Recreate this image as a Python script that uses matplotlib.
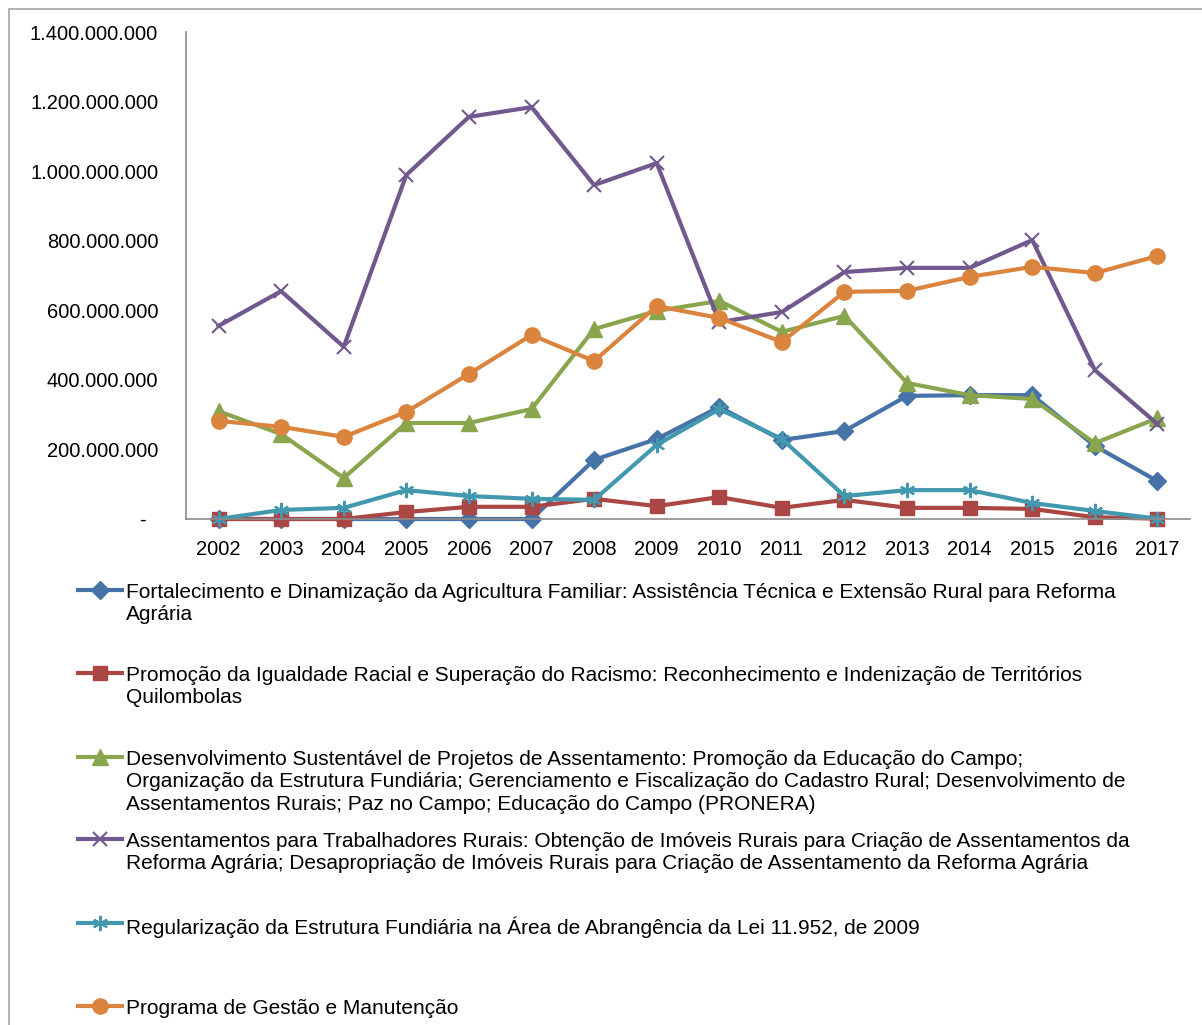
import matplotlib.pyplot as plt
from matplotlib.lines import Line2D
from matplotlib.patches import Rectangle
from matplotlib.ticker import FuncFormatter

plt.rcParams['font.family'] = ['Liberation Sans', 'DejaVu Sans']

years = [str(y) for y in range(2002, 2018)]

# budget values (R$)
fortalecimento = [0, 0, 0, 0, 0, 0, 170e6, 230e6, 322e6, 227e6, 253e6, 354e6, 356e6, 356e6, 210e6, 109e6]
promocao = [0, 0, 0, 20e6, 35e6, 35e6, 58e6, 37e6, 63e6, 32e6, 55e6, 32e6, 32e6, 29e6, 5e6, 1e6]
desenvolvimento = [310e6, 244e6, 118e6, 276e6, 276e6, 316e6, 546e6, 598e6, 627e6, 538e6, 584e6, 391e6, 356e6, 345e6, 218e6, 290e6]
assentamentos = [555e6, 655e6, 495e6, 989e6, 1156e6, 1184e6, 960e6, 1023e6, 566e6, 595e6, 710e6, 722e6, 722e6, 802e6, 428e6, 273e6]
regularizacao = [0, 26e6, 32e6, 83e6, 66e6, 58e6, 55e6, 213e6, 316e6, 230e6, 66e6, 83e6, 83e6, 46e6, 23e6, 1e6]
gestao = [282e6, 265e6, 236e6, 308e6, 417e6, 529e6, 454e6, 612e6, 578e6, 509e6, 653e6, 656e6, 696e6, 725e6, 707e6, 756e6]

labels = [
    "Fortalecimento e Dinamização da Agricultura Familiar: Assistência Técnica e Extensão Rural para Reforma\nAgrária",
    "Promoção da Igualdade Racial e Superação do Racismo: Reconhecimento e Indenização de Territórios\nQuilombolas",
    "Desenvolvimento Sustentável de Projetos de Assentamento: Promoção da Educação do Campo;\nOrganização da Estrutura Fundiária; Gerenciamento e Fiscalização do Cadastro Rural; Desenvolvimento de\nAssentamentos Rurais; Paz no Campo; Educação do Campo (PRONERA)",
    "Assentamentos para Trabalhadores Rurais: Obtenção de Imóveis Rurais para Criação de Assentamentos da\nReforma Agrária; Desapropriação de Imóveis Rurais para Criação de Assentamento da Reforma Agrária",
    "Regularização da Estrutura Fundiária na Área de Abrangência da Lei 11.952, de 2009",
    "Programa de Gestão e Manutenção",
]

series = [fortalecimento, promocao, desenvolvimento, assentamentos, regularizacao, gestao]
colors = ["#4572A7", "#AA4643", "#89A54E", "#71588F", "#4198AF", "#DB843D"]
markers = ["D", "s", "^", "x", (6, 2, 0), "o"]
msizes = [9, 10, 11, 10, 11, 11]
mew = [1, 1, 1, 1.5, 1.5, 1]

W, H = 1202, 1025
fig = plt.figure(figsize=(W / 100, H / 100), dpi=100)
ax = fig.add_axes([186 / W, 1 - 519 / H, (1190 - 186) / W, (519 - 32) / H])

x = list(range(len(years)))
for vals, c, m, ms, mw in zip(series, colors, markers, msizes, mew):
    ax.plot(x, vals, color=c, lw=3, marker=m, ms=ms, mec=c, mfc=c, mew=mw, clip_on=False)

ax.set_xlim(-0.52, len(years) - 0.48)
ax.set_ylim(0, 1.4e9)
ax.set_xticks(x)
ax.set_xticklabels(years)
ax.set_yticks([i * 200e6 for i in range(8)])


def fmt(v, pos):
    if v == 0:
        return "-  "
    return f"{int(v):,}".replace(",", ".")


ax.yaxis.set_major_formatter(FuncFormatter(fmt))
ax.tick_params(axis="both", length=0, labelsize=14.5)
ax.tick_params(axis="y", pad=20)
ax.tick_params(axis="x", pad=15)
for s in ["top", "right"]:
    ax.spines[s].set_visible(False)
for s in ["left", "bottom"]:
    ax.spines[s].set_color("#8c8c8c")
    ax.spines[s].set_linewidth(1.2)

# legend drawn by hand below the plot
leg_y = [590, 673, 757, 839, 923, 1006]
for lab, c, m, ms, mw, yy in zip(labels, colors, markers, msizes, mew, leg_y):
    yf = 1 - yy / H
    fig.add_artist(Line2D([78 / W, 122 / W], [yf, yf], transform=fig.transFigure, color=c, lw=3))
    fig.add_artist(Line2D([100 / W], [yf], transform=fig.transFigure, color=c, marker=m,
                          ms=ms, mec=c, mfc=c, mew=mw, lw=0))
    fig.text(126 / W, yf + 7 / H, lab, fontsize=15, va="top", ha="left", linespacing=1.22)

# chart border
fig.add_artist(Rectangle((9 / W, -0.1), 1.2, 1.1 - 9 / H, transform=fig.transFigure,
                         fill=False, edgecolor="#a6a6a6", lw=1.2))

fig.savefig("out.png", dpi=100)
